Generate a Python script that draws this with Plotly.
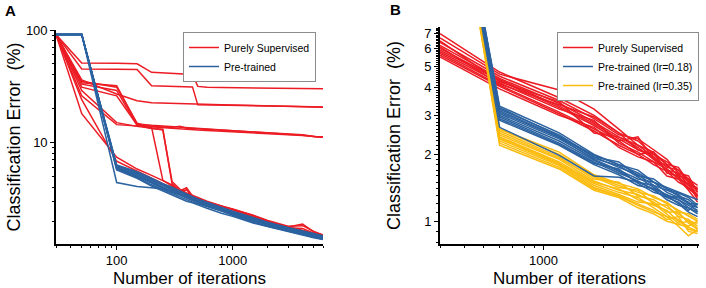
import math
import plotly.graph_objects as go

# ---------------- Panel A data ----------------
A_ITER = [30, 50, 100, 150, 200, 250, 300, 350, 400, 450, 500, 600, 800, 1000, 1500, 2000, 3000, 4000, 5000, 6000]

A_SUP = [
    [91, 51, 50.5, 50, 42, 41.5, 41.2, 41, 40.6, 40.3, 31.5, 31, 30.8, 30.7, 30.5, 30.4, 30.3, 30.2, 30.1, 30],
    [91, 45, 44.8, 44.5, 32, 31.8, 31.6, 31.5, 31.3, 31.2, 21.6, 21.5, 21.4, 21.3, 21.2, 21.1, 21, 20.9, 20.8, 20.7],
    [91, 36, 27, 23.5, 22.5, 22.3, 22.2, 22.1, 22, 21.9, 21.8, 21.7, 21.6, 21.5, 21.3, 21.2, 21, 20.9, 20.8, 20.6],
    [91, 34, 32, 14.6, 14.2, 14, 13.8, 13.6, 13.5, 13.4, 13.3, 13.2, 13, 12.8, 12.5, 12.3, 11.9, 11.6, 11.3, 11.1],
    [91, 33, 29, 14.2, 13.9, 13.7, 13.6, 13.9, 13.4, 13.3, 13.2, 13, 12.9, 12.7, 12.4, 12.2, 11.8, 11.7, 11.3, 11.2],
    [91, 26, 14.4, 14, 13.6, 13.4, 13.3, 13.2, 13.1, 13, 12.9, 12.8, 12.6, 12.5, 12.3, 12.1, 11.8, 11.5, 11.3, 11.1],
    [91, 35, 31, 14.8, 13.6, 4.6, 4.1, 3.6, 3.8, 3.3, 3.15, 2.95, 2.7, 2.55, 2.25, 2.02, 1.8, 1.82, 1.62, 1.5],
    [91, 31, 26, 14.3, 13.3, 13.1, 4.3, 3.7, 3.95, 3.35, 3.2, 2.95, 2.72, 2.56, 2.24, 2.0, 1.77, 1.88, 1.6, 1.5],
    [91, 29, 15, 13.9, 13.4, 12.9, 4.5, 3.85, 3.55, 3.4, 3.25, 3.0, 2.7, 2.52, 2.2, 1.98, 1.74, 1.72, 1.56, 1.48],
    [91, 18, 7.4, 5.8, 5.1, 4.6, 4.2, 3.7, 3.4, 3.2, 3.05, 2.85, 2.62, 2.46, 2.16, 1.96, 1.76, 1.66, 1.56, 1.48],
    [91, 24, 6.8, 5.5, 4.8, 4.3, 3.9, 3.5, 3.25, 3.05, 2.95, 2.78, 2.56, 2.42, 2.12, 1.92, 1.72, 1.64, 1.53, 1.45],
]

A_PRE = [
    [91, 91, 6.3, 5.5, 4.8, 4.3, 4.0, 3.7, 3.5, 3.3, 3.15, 2.95, 2.65, 2.45, 2.15, 1.95, 1.75, 1.62, 1.55, 1.48],
    [91, 91, 6.1, 5.3, 4.6, 4.15, 3.8, 3.6, 3.4, 3.2, 3.05, 2.85, 2.6, 2.4, 2.1, 1.92, 1.72, 1.6, 1.52, 1.45],
    [91, 91, 6.0, 5.2, 4.5, 4.0, 3.7, 3.5, 3.3, 3.15, 3.0, 2.8, 2.55, 2.35, 2.05, 1.88, 1.7, 1.58, 1.5, 1.43],
    [91, 91, 5.9, 5.0, 4.35, 3.9, 3.6, 3.4, 3.2, 3.05, 2.95, 2.75, 2.5, 2.3, 2.0, 1.85, 1.67, 1.55, 1.48, 1.4],
    [91, 91, 5.8, 4.9, 4.2, 3.8, 3.5, 3.3, 3.1, 2.95, 2.85, 2.7, 2.45, 2.25, 1.95, 1.8, 1.64, 1.52, 1.44, 1.38],
    [91, 91, 6.2, 5.4, 4.7, 4.2, 3.9, 3.6, 3.45, 3.25, 3.1, 2.9, 2.6, 2.4, 2.1, 1.9, 1.7, 1.6, 1.53, 1.46],
    [91, 91, 5.7, 4.8, 4.1, 3.7, 3.4, 3.2, 3.0, 2.9, 2.8, 2.6, 2.35, 2.2, 1.92, 1.78, 1.62, 1.5, 1.42, 1.37],
    [91, 91, 4.4, 4.05, 3.95, 3.85, 3.7, 3.5, 3.3, 3.1, 3.0, 2.8, 2.55, 2.35, 2.05, 1.9, 1.72, 1.6, 1.5, 1.44],
    [91, 91, 6.0, 5.1, 4.4, 3.95, 3.65, 3.45, 3.25, 3.1, 2.9, 2.72, 2.48, 2.28, 2.02, 1.83, 1.66, 1.56, 1.46, 1.41],
]

# ---------------- Panel B data ----------------
B_ITER = [300, 600, 1200, 1800, 2400, 3000, 3600, 4200, 4800, 5400, 6000]

B_SUP = [
    [7.0, 4.7, 3.6, 3.0, 2.5, 2.3, 2.0, 1.85, 1.7, 1.55, 1.45],
    [6.7, 4.6, 3.9, 3.2, 2.6, 2.2, 2.05, 1.8, 1.75, 1.5, 1.4],
    [6.4, 4.5, 3.5, 2.9, 2.45, 2.35, 2.1, 1.9, 1.65, 1.6, 1.35],
    [6.2, 4.4, 3.4, 2.8, 2.4, 2.2, 1.95, 1.75, 1.7, 1.5, 1.3],
    [6.0, 4.35, 3.3, 2.75, 2.35, 2.1, 2.0, 1.8, 1.6, 1.55, 1.38],
    [5.9, 4.3, 3.25, 2.7, 2.3, 2.4, 1.9, 1.7, 1.65, 1.45, 1.3],
    [5.8, 4.2, 3.2, 2.85, 2.25, 2.05, 1.85, 1.72, 1.55, 1.48, 1.25],
    [5.7, 4.1, 3.1, 2.6, 2.3, 2.0, 2.05, 1.65, 1.6, 1.4, 1.32],
    [5.6, 4.05, 3.05, 2.55, 2.2, 2.0, 1.8, 1.68, 1.5, 1.42, 1.28],
    [5.5, 3.95, 3.0, 2.65, 2.15, 1.95, 1.85, 1.6, 1.55, 1.38, 1.22],
    [6.5, 4.25, 3.45, 2.5, 2.4, 2.15, 1.9, 1.78, 1.62, 1.52, 1.35],
    [6.1, 4.15, 3.35, 2.95, 2.5, 2.1, 1.95, 1.7, 1.58, 1.45, 1.42],
]

B_PRE_018 = [
    [90, 3.3, 2.5, 2.0, 1.8, 1.65, 1.5, 1.42, 1.35, 1.3, 1.25],
    [90, 3.2, 2.45, 1.95, 1.85, 1.6, 1.55, 1.4, 1.3, 1.25, 1.15],
    [90, 3.15, 2.4, 1.95, 1.75, 1.62, 1.45, 1.38, 1.32, 1.2, 1.2],
    [90, 3.1, 2.38, 1.9, 1.7, 1.55, 1.5, 1.35, 1.28, 1.22, 1.1],
    [90, 3.05, 2.35, 1.92, 1.78, 1.58, 1.42, 1.3, 1.25, 1.18, 1.12],
    [90, 3.0, 2.3, 1.88, 1.68, 1.5, 1.4, 1.32, 1.25, 1.15, 1.08],
    [90, 2.95, 2.25, 1.85, 1.65, 1.52, 1.38, 1.28, 1.22, 1.12, 1.2],
    [90, 2.9, 2.22, 1.82, 1.72, 1.48, 1.35, 1.3, 1.2, 1.1, 1.05],
    [90, 2.85, 2.2, 1.8, 1.62, 1.45, 1.4, 1.25, 1.18, 1.15, 1.1],
    [90, 2.65, 1.98, 1.6, 1.58, 1.5, 1.45, 1.3, 1.28, 1.2, 1.15],
    [90, 3.25, 2.42, 1.98, 1.8, 1.7, 1.5, 1.4, 1.34, 1.28, 1.18],
]

B_PRE_035 = [
    [90, 2.6, 2.0, 1.6, 1.45, 1.35, 1.3, 1.2, 1.12, 1.05, 1.0],
    [90, 2.55, 1.95, 1.55, 1.5, 1.3, 1.25, 1.15, 1.08, 1.0, 0.98],
    [90, 2.5, 1.92, 1.58, 1.42, 1.38, 1.2, 1.18, 1.05, 1.02, 0.95],
    [90, 2.45, 1.9, 1.52, 1.38, 1.32, 1.22, 1.1, 1.1, 0.98, 0.92],
    [90, 2.4, 1.85, 1.5, 1.4, 1.25, 1.18, 1.12, 1.0, 0.95, 1.0],
    [90, 2.38, 1.82, 1.48, 1.35, 1.28, 1.15, 1.05, 1.02, 0.92, 0.9],
    [90, 2.35, 1.8, 1.45, 1.32, 1.22, 1.2, 1.08, 0.98, 1.0, 0.93],
    [90, 2.3, 1.78, 1.42, 1.3, 1.2, 1.12, 1.02, 1.05, 0.9, 0.88],
    [90, 2.25, 1.75, 1.4, 1.3, 1.18, 1.1, 1.05, 0.95, 0.86, 0.92],
    [90, 2.2, 1.72, 1.38, 1.28, 1.15, 1.08, 1.0, 0.97, 0.94, 0.9],
    [90, 2.6, 2.05, 1.62, 1.48, 1.4, 1.28, 1.22, 1.1, 1.08, 1.02],
]

RED = "#ec1c24"
BLUE = "#2b62a0"
YELLOW = "#fbbc0f"
FONT = "Arial, 'Liberation Sans', sans-serif"

fig = go.Figure()

def add_group(xs, groups, color, name, xa, ya, leg, rank):
    for i, ys in enumerate(groups):
        fig.add_trace(go.Scatter(
            x=xs, y=ys, mode="lines", name=name,
            line=dict(color=color, width=1.5),
            xaxis=xa, yaxis=ya, legend=leg, legendrank=rank,
            showlegend=(i == 0), legendgroup=leg + name,
            hoverinfo="skip"))

add_group(A_ITER, A_SUP, RED, "Purely Supervised", "x", "y", "legend", 1)
add_group(A_ITER, A_PRE, BLUE, "Pre-trained", "x", "y", "legend", 2)
add_group(B_ITER, B_SUP, RED, "Purely Supervised", "x2", "y2", "legend2", 1)
add_group(B_ITER, B_PRE_035, YELLOW, "Pre-trained (lr=0.35)", "x2", "y2", "legend2", 3)
add_group(B_ITER, B_PRE_018, BLUE, "Pre-trained (lr=0.18)", "x2", "y2", "legend2", 2)

W, H = 706, 288
axis_common = dict(
    type="log", showline=True, linecolor="black", linewidth=1.6,
    ticks="outside", ticklen=4, tickwidth=1.3, tickcolor="black",
    showgrid=False, zeroline=False, mirror=False, automargin=False,
    tickfont=dict(family=FONT, size=13, color="black"),
)

def minor_vals(lo, hi, steps):
    vals = []
    for d in steps:
        for k in range(1, 10):
            v = round(k * d, 6)
            if lo <= v <= hi:
                vals.append(v)
    return vals

a_xminor = [v for v in minor_vals(30, 6000, [10, 100, 1000]) if v not in (100, 1000)]
a_yminor = [v for v in minor_vals(1.25, 100, [1, 10]) if v not in (10, 100)]
b_xminor = [v for v in minor_vals(300, 6100, [100, 1000]) if v != 1000]
b_yminor = [round(0.8 + 0.1 * k, 2) for k in range(0, 67)]

minor_style = dict(tickmode="array", ticks="outside", ticklen=2,
                   tickcolor="black", showgrid=False)

fig.update_layout(
    width=W, height=H,
    margin=dict(l=0, r=0, t=0, b=0),
    paper_bgcolor="white", plot_bgcolor="white",
    font=dict(family=FONT, color="black"),
    xaxis=dict(axis_common, domain=[56 / W, 323 / W], anchor="y",
               range=[math.log10(30), math.log10(6000)],
               tickmode="array", tickvals=[100, 1000], ticktext=["100", "1000"],
               ticklabelstandoff=0,
               minor=dict(minor_style, tickvals=a_xminor),
               title=dict(text="Number of iterations", standoff=6,
                          font=dict(family=FONT, size=17, color="black"))),
    yaxis=dict(axis_common, domain=[(H - 244) / H, (H - 30) / H], anchor="x",
               range=[math.log10(1.25), 2.0],
               tickmode="array", tickvals=[10, 100], ticktext=["10", "100"],
               minor=dict(minor_style, tickvals=a_yminor),
               title=dict(text="Classification Error  (%)", standoff=1,
                          font=dict(family=FONT, size=18, color="black"))),
    xaxis2=dict(axis_common, domain=[440 / W, 699 / W], anchor="y2",
                range=[math.log10(300), math.log10(6100)],
                tickmode="array", tickvals=[1000], ticktext=["1000"],
                ticklabelstandoff=0,
                minor=dict(minor_style, tickvals=b_xminor),
                title=dict(text="Number of iterations", standoff=6,
                           font=dict(family=FONT, size=17, color="black"))),
    yaxis2=dict(axis_common, domain=[(H - 244) / H, (H - 27) / H], anchor="x2",
                range=[math.log10(0.79), math.log10(7.5)],
                tickmode="array", tickvals=[1, 2, 3, 4, 5, 6, 7],
                ticktext=["1", "2", "3", "4", "5", "6", "7"],
                minor=dict(minor_style, tickvals=b_yminor),
                title=dict(text="Classification Error  (%)", standoff=19,
                           font=dict(family=FONT, size=18, color="black"))),
    legend=dict(x=316 / W, y=(H - 32) / H, xanchor="right", yanchor="top",
                bgcolor="white", bordercolor="#8c8c8c", borderwidth=1,
                font=dict(family=FONT, size=10.5, color="black"),
                tracegroupgap=0, itemwidth=30),
    legend2=dict(x=699 / W, y=(H - 32) / H, xanchor="right", yanchor="top",
                 bgcolor="white", bordercolor="#8c8c8c", borderwidth=1,
                 font=dict(family=FONT, size=10.5, color="black"),
                 tracegroupgap=0, itemwidth=30),
    annotations=[
        dict(text="<b>A</b>", x=10 / W, y=(H - 11) / H, xref="paper", yref="paper",
             xanchor="center", yanchor="middle",
             showarrow=False, font=dict(family=FONT, size=15, color="black")),
        dict(text="<b>B</b>", x=395 / W, y=(H - 10) / H, xref="paper", yref="paper",
             xanchor="center", yanchor="middle",
             showarrow=False, font=dict(family=FONT, size=15, color="black")),
    ],
    showlegend=True,
)

fig.write_html("out.html", config={"displayModeBar": False},
               post_script="document.body.style.margin='0';")
